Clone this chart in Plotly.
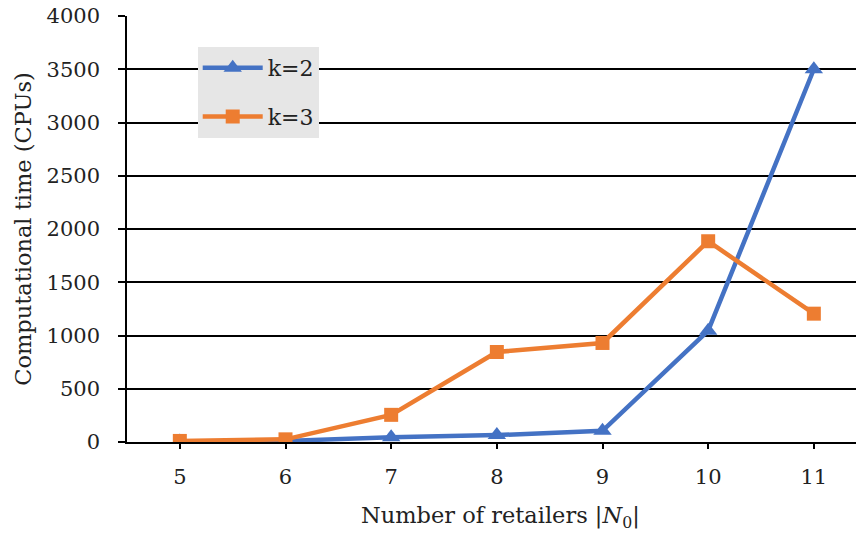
import plotly.graph_objects as go

retailers = [5, 6, 7, 8, 9, 10, 11]
k2_time = [5, 10, 45, 65, 105, 1045, 3500]
k3_time = [10, 25, 255, 845, 930, 1885, 1205]
y_ticks = [0, 500, 1000, 1500, 2000, 2500, 3000, 3500, 4000]

FONT = "DejaVu Serif"
BLUE = "#4472C4"
ORANGE = "#ED7D31"

fig = go.Figure()
fig.add_trace(go.Scatter(x=retailers, y=k2_time, name="k=2", mode="lines+markers",
                         line=dict(color=BLUE, width=4.5),
                         marker=dict(symbol="triangle-up", size=16, color=BLUE),
                         legendgroup="a"))
fig.add_trace(go.Scatter(x=retailers, y=k3_time, name="k=3", mode="lines+markers",
                         line=dict(color=ORANGE, width=4.5),
                         marker=dict(symbol="square", size=14, color=ORANGE),
                         legendgroup="b"))

fig.update_layout(
    width=856, height=533,
    margin=dict(l=127, r=0, t=16, b=91),
    paper_bgcolor="white", plot_bgcolor="white",
    font=dict(family=FONT, size=21, color="#222"),
    showlegend=True,
    legend=dict(x=0.097, y=(442 - 47) / 426, xanchor="left", yanchor="top",
                bgcolor="#e6e6e6", font=dict(family=FONT, size=22, color="#222"),
                tracegroupgap=17, itemwidth=60),
    xaxis=dict(range=[4.5, 11.399], tickvals=retailers, ticktext=[str(v) for v in retailers],
               automargin=False,
               showgrid=False, zeroline=False, showline=True, linecolor="black", linewidth=1.5,
               ticks="outside", ticklen=5, tickcolor="black", tickwidth=1.5,
               ticklabelstandoff=10),
    yaxis=dict(range=[0, 4000], tickvals=y_ticks, ticktext=[str(v) for v in y_ticks],
               automargin=False,
               showgrid=True, gridcolor="black", gridwidth=1.5, zeroline=False,
               showline=True, linecolor="black", linewidth=1.5,
               ticks="outside", ticklen=7, tickcolor="black", tickwidth=1.5,
               ticklabelstandoff=14,
               title=dict(text="Computational time (CPUs)", standoff=9,
                          font=dict(family=FONT, size=22.5))),
    annotations=[dict(text="Number of retailers |<i>N</i><sub>0</sub>|",
                      xref="paper", yref="paper", x=(500 - 127) / 729, y=-(517 - 442) / 425.5,
                      xanchor="center", yanchor="middle", showarrow=False,
                      font=dict(family=FONT, size=22.5, color="#222"))],
)

fig.write_html("out.html", config={"displayModeBar": False},
               post_script="document.body.style.margin='0';document.body.style.padding='0';document.body.style.overflow='hidden';")
